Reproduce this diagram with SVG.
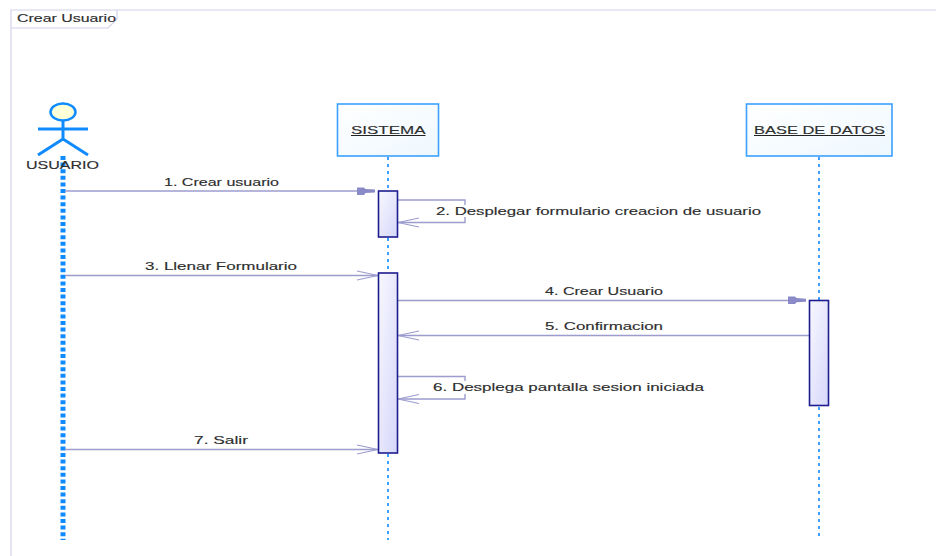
<svg xmlns="http://www.w3.org/2000/svg" width="936" height="556" viewBox="0 0 936 556">
<style>
text{font-family:"Liberation Sans",Arial,sans-serif;font-size:11.5px;fill:#2e2e2e;stroke:#2e2e2e;stroke-width:.15px}
.m{fill:none;stroke:#9c9ccf;stroke-width:1.4}
.o{fill:none;stroke:#9c9ccf;stroke-width:1.2}
.f{fill:#8a8ac8;stroke:none}
.life{stroke:#3ba0ff;stroke-width:2;stroke-dasharray:3 4;fill:none}
.box{fill:url(#bg);stroke:#3ba0ff;stroke-width:1.6}
.act{fill:url(#ag);stroke:#1d1d8f;stroke-width:1.6}
.a{stroke:#0f8bff;stroke-width:3;fill:none}
</style>
<defs>
<linearGradient id="bg" x1="0" y1="0" x2="1" y2="1"><stop offset="0" stop-color="#fff"/><stop offset="1" stop-color="#eef8ff"/></linearGradient>
<linearGradient id="ag" x1="0" y1="0" x2="1" y2="1"><stop offset="0" stop-color="#f8f8ff"/><stop offset="1" stop-color="#d6d6fb"/></linearGradient>
</defs>
<rect width="936" height="556" fill="#fff"/>
<g id="frame">
<path d="M936 10H11V556" fill="none" stroke="#d2d2ea" stroke-width="1.2"/>
<path d="M11 28H108L117 19V10" fill="none" stroke="#d2d2ea" stroke-width="1.2"/>
<text x="17" y="22" textLength="99" lengthAdjust="spacingAndGlyphs">Crear Usuario</text>
</g>
<g id="connectors">
<path d="M63 156V540" fill="none" stroke="#0f8bff" stroke-width="5" stroke-dasharray="4 2.6"/>
<path class="life" d="M388 157V191M388 238V273M388 454V540"/>
<path class="life" d="M819 157V300M819 407V540"/>
<path class="m" d="M65 191H360"/>
<path class="f" d="M357 187.500L364 187.500L365.500 189L375 189.500V192.500L365.500 193L364 195L357 195Z"/>
<text x="164" y="186" textLength="115" lengthAdjust="spacingAndGlyphs">1. Crear usuario</text>
<path class="m" d="M398 200H465V205M465 217V222.500H398"/>
<path class="o" d="M419 218L398 222.500L419 227"/>
<text x="436" y="215" textLength="325" lengthAdjust="spacingAndGlyphs">2. Desplegar formulario creacion de usuario</text>
<path class="m" d="M65 275.500H378"/>
<path class="o" d="M357 271L378 275.500L357 280"/>
<text x="145" y="270" textLength="152" lengthAdjust="spacingAndGlyphs">3. Llenar Formulario</text>
<path class="m" d="M398 300.500H791"/>
<path class="f" d="M788 296.500L795 296.500L796.500 298L806 298.800V301.800L796.500 302.300L795 304L788 304Z"/>
<text x="545" y="295" textLength="118" lengthAdjust="spacingAndGlyphs">4. Crear Usuario</text>
<path class="m" d="M809 335.500H398"/>
<path class="o" d="M419 331L398 335.500L419 340"/>
<text x="545" y="330" textLength="118" lengthAdjust="spacingAndGlyphs">5. Confirmacion</text>
<path class="m" d="M398 376.500H465V381M465 394V399H398"/>
<path class="o" d="M419 394.500L398 399L419 403.500"/>
<text x="433" y="391" textLength="271" lengthAdjust="spacingAndGlyphs">6. Desplega pantalla sesion iniciada</text>
<path class="m" d="M65 449.500H378"/>
<path class="o" d="M357 445L378 449.500L357 454"/>
<text x="194" y="444" textLength="54" lengthAdjust="spacingAndGlyphs">7. Salir</text>
</g>
<g id="usuario">
<ellipse cx="63" cy="112" rx="12.500" ry="8.500" fill="#ffffd8" stroke="#0f8bff" stroke-width="2.500"/>
<path class="a" d="M63 121V139M38 129H88M38 155L63 139L88 155"/>
<text x="26" y="169" textLength="73" lengthAdjust="spacingAndGlyphs">USUARIO</text>
</g>
<g id="sistema">
<rect class="box" x="337.500" y="104" width="101" height="52"/>
<text x="351" y="134" textLength="74.500" lengthAdjust="spacingAndGlyphs">SISTEMA</text>
<path d="M351 135.500H425.500" stroke="#222" stroke-width="1"/>
</g>
<g id="base-de-datos">
<rect class="box" x="746.500" y="104" width="145.500" height="52"/>
<text x="754" y="134" textLength="131" lengthAdjust="spacingAndGlyphs">BASE DE DATOS</text>
<path d="M754 135.500H885" stroke="#222" stroke-width="1"/>
</g>
<g id="act-sistema-1"><rect class="act" x="378.500" y="191" width="19" height="46"/></g>
<g id="act-sistema-2"><rect class="act" x="378.500" y="273" width="19" height="180"/></g>
<g id="act-base-1"><rect class="act" x="809.500" y="300.500" width="19" height="105"/></g>
</svg>
